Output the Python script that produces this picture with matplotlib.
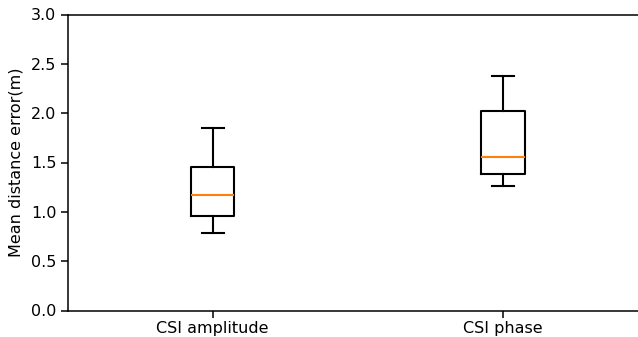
import matplotlib
matplotlib.use("Agg")
import matplotlib.pyplot as plt

# box statistics per feature type (metres)
labels = ["CSI amplitude", "CSI phase"]
whislo = [0.79, 1.26]
q1 = [0.96, 1.38]
med = [1.175, 1.56]
q3 = [1.45, 2.025]
whishi = [1.85, 2.38]

stats = []
for i, lab in enumerate(labels):
    stats.append(dict(label=lab, whislo=whislo[i], q1=q1[i], med=med[i],
                      q3=q3[i], whishi=whishi[i], fliers=[]))

plt.rcParams['font.size'] = 11.5
plt.rcParams['axes.linewidth'] = 1.1
plt.rcParams['xtick.major.width'] = 1.1
plt.rcParams['ytick.major.width'] = 1.1
plt.rcParams['xtick.major.size'] = 5
plt.rcParams['ytick.major.size'] = 5
plt.rcParams['xtick.major.pad'] = 2.5
plt.rcParams['ytick.major.pad'] = 3

fig = plt.figure(figsize=(6.38, 3.37), dpi=100)
# axes runs past the right edge of the figure
ax = fig.add_axes([67.5 / 638, 26.5 / 337, 580.5 / 638, 296 / 337])
line = dict(linewidth=1.5, color='black')
ax.bxp(stats, positions=[1, 2], widths=0.15, showfliers=False,
       boxprops=line, whiskerprops=line, capprops=line,
       medianprops=dict(linewidth=1.5, color='#ff7f0e'))

ax.set_xlim(0.5, 2.5)
ax.set_ylim(0, 3.0)
ax.set_ylabel("Mean distance error(m)", labelpad=5)

fig.savefig("out.png", dpi=100)
